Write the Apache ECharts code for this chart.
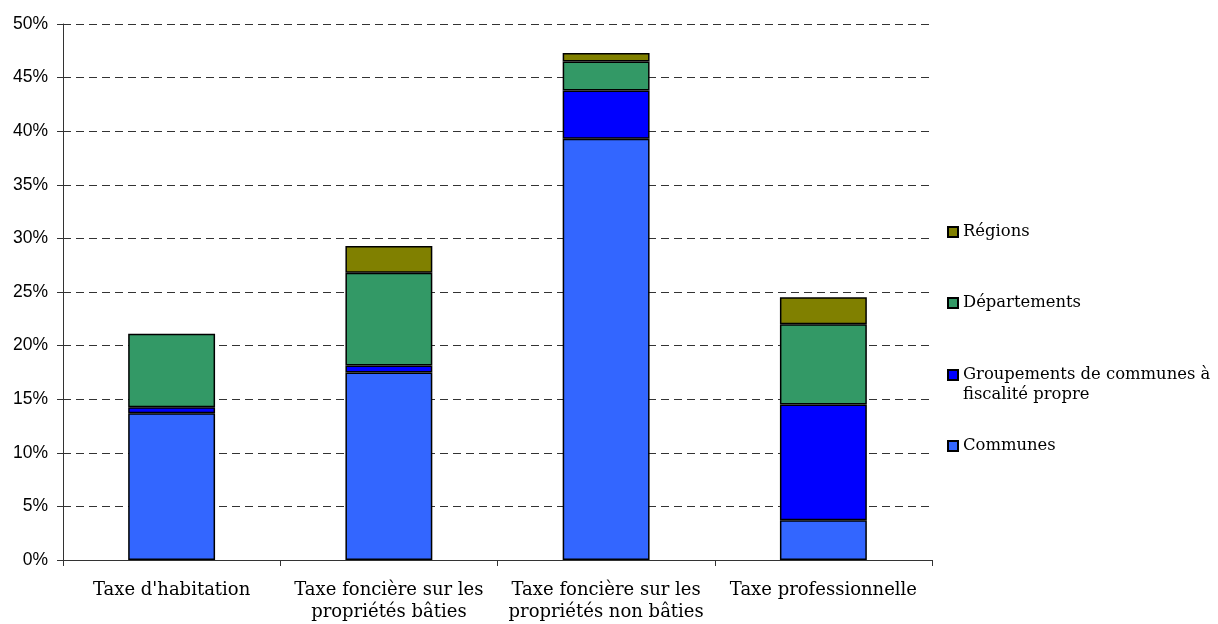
<!DOCTYPE html>
<html><head><meta charset="utf-8">
<script src="https://cdn.jsdelivr.net/npm/echarts@6/dist/echarts.min.js"></script>
<style>html,body{margin:0;padding:0;background:#fff}#c{width:1218px;height:624px}</style>
</head><body><div id="c"></div>
<script>
const categories = ["Taxe d'habitation", "Taxe foncière sur les\npropriétés bâties", "Taxe foncière sur les\npropriétés non bâties", "Taxe professionnelle"];
const communes = [13.7, 17.5, 39.3, 3.7];
const groupements = [0.55, 0.65, 4.5, 10.8];
const departements = [6.85, 8.65, 2.7, 7.5];
const regions = [0, 2.5, 0.8, 2.5];
const yTicks = [0, 5, 10, 15, 20, 25, 30, 35, 40, 45, 50];

const serif = '"DejaVu Serif", "Liberation Serif", serif';
const names = ['Communes', 'Groupements de communes à fiscalité propre', 'Départements', 'Régions'];
const colors = ['#3366FF', '#0000FF', '#339966', '#808000'];
const dataSets = [communes, groupements, departements, regions];

const series = names.map((n, i) => ({
  name: n, type: 'bar', stack: 'tot', barCategoryGap: '60%',
  data: dataSets[i].map(v => v === 0 ? '-' : v),
  itemStyle: { color: colors[i], borderColor: '#000', borderWidth: 1.5 },
  emphasis: { disabled: true }
}));

const legendTops = { 'Régions': 217, 'Départements': 288, 'Groupements de communes à fiscalité propre': 340, 'Communes': 431 };
const legendText = { fontFamily: serif, fontSize: 16.4, color: '#000', lineHeight: 20,
  rich: { s: { fontSize: 16, lineHeight: 20 }, a: { fontFamily: serif, fontSize: 16.4, color: '#000', lineHeight: 20 } } };
const legends = names.map(n => ({
  orient: 'vertical', left: 942, top: legendTops[n], data: [n],
  icon: 'rect', itemWidth: 10, itemHeight: 10, itemGap: 0,
  textStyle: legendText,
  formatter: name => name.indexOf('fiscalité') >= 0
    ? '{s| }\n{a|Groupements de communes à}\n{a|fiscalité propre}'
    : name,
  selectedMode: false
}));

const chart = echarts.init(document.getElementById('c'), null, { renderer: 'canvas' });
chart.setOption({
  animation: false,
  grid: { left: 63, right: 286, top: 24, bottom: 64 },
  legend: legends,
  xAxis: {
    type: 'category', data: categories,
    axisLine: { lineStyle: { color: '#333', width: 1 } },
    axisTick: { show: true, alignWithLabel: false, length: 6, lineStyle: { color: '#333' } },
    axisLabel: { fontFamily: serif, fontSize: 18, color: '#000', margin: 19, lineHeight: 22, interval: 0 }
  },
  yAxis: {
    type: 'value', min: 0, max: 50, interval: 5,
    axisLine: { show: true, lineStyle: { color: '#333', width: 1 } },
    axisTick: { show: true, length: 6, inside: false, lineStyle: { color: '#333' } },
    axisLabel: { fontFamily: '"Liberation Sans", Arial, sans-serif', fontSize: 17.5, color: '#000', margin: 15,
      formatter: v => yTicks.indexOf(v) >= 0 ? v + '%' : '' },
    splitLine: { show: true, lineStyle: { color: '#333', type: [8, 5], width: 1 } }
  },
  series: series
});
</script></body></html>
